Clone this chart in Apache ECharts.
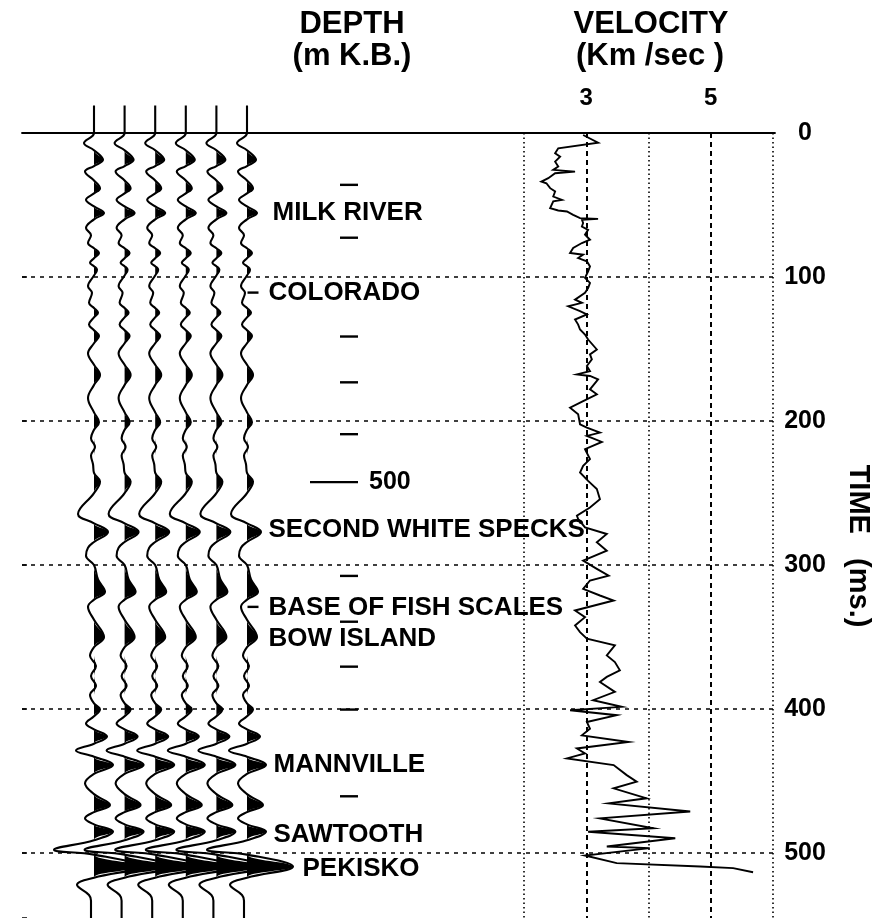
<!DOCTYPE html>
<html><head><meta charset="utf-8">
<script src="https://cdn.jsdelivr.net/npm/echarts@6/dist/echarts.min.js"></script>
<style>html,body{margin:0;padding:0;background:#fff}#c{width:875px;height:918px}</style>
</head><body><div id="c"></div>
<script>
// ---------------- DATA ----------------
// synthetic seismogram trace (same trace repeated 6 times): time (ms) and amplitude
const traceTimes = [-19,0,7,12,18.7,23,26.8,33,38.5,42,46.4,51,55.6,60,66,71,76.4,80,83.3,87,90.2,92.5,94.9,99,106.4,111,117.9,121.5,124.9,128,133,137,141,146,153,161,168,175,184,194,200.8,206,212,218,224,230,236,242,250,264.5,271,277,284,288,293.6,300,310,318.6,324,329,338,350,357,363,370,377,384,390,396,400,405,410,414,419,424,428.7,433,438.8,445,451.5,459,466.5,471.5,475.8,480,485,491,497.7,501,509.3,517,522,529,533,545];
const traceAmps  = [0,0,-10,0,9,0,-9,0,6,0,-8,0,10,0,-8,-3,-6,0,5,0,-4,0,3,0,-6,-2,-5,0,4,0,-5,0,5,0,-6,0,6,0,-6,0,5,0,-3,1,-3,-1,0,6,0,-16,0,14,0,-6,-8,0,4,11,0,-6,0,10,0,-4,2,-3,2,-4,0,6,0,-8,0,13,0,-18,0,19,0,-9,0,16,0,-9,0,19,0,-40,0,46,0,-17,-5,-3,-3];

// velocity log: time (ms) and velocity (km/s)
const velTimes  = [1.4,6.7,10.6,14.1,16.4,19.9,23.3,25.6,26.8,27.9,31.4,33.7,34.9,38.3,40.6,44.1,46.4,47.5,52.2,53.8,54.5,56.8,59.1,59.6,60.2,62.5,64.9,67.2,70.6,74.1,76.4,79.8,83.3,84.5,86.8,89.1,92.6,96.1,100.6,104.1,107.6,111.0,115.7,117.9,120.3,123.7,126,129.5,133,136.4,139.9,143.4,150.3,153.7,157.2,161.8,165.3,167.6,168.7,171,178,181.4,186.1,190.7,195.3,202.2,204.5,208,210.3,214.5,219.5,226.4,231.1,235.7,241.5,247.2,254.2,260,265.7,268,273.8,278.4,284.1,290,296.9,302.6,307.3,310.7,316.5,321.1,324.6,331.5,336.1,341.9,346.5,351.1,355.7,362.7,367.3,373,377.6,381.1,388,393.8,398.4,400.8,404.2,408.9,413.6,418.2,422.8,427.3,430.7,434.2,438.8,445.8,450.3,455,461.9,465.4,471.1,475.8,482.7,485.1,489.6,495.4,496.5,501.6,506.9,509.2,510.4,513.2];
const velValues = [2.95,3.19,2.55,2.50,2.58,2.50,2.55,2.47,2.82,2.50,2.39,2.28,2.36,2.42,2.50,2.47,2.61,2.47,2.42,2.55,2.69,2.79,2.90,3.19,2.93,2.95,2.93,3.03,2.98,3.06,2.93,2.79,2.74,2.95,2.87,3.01,3.06,3.03,2.98,3.06,3.03,2.98,2.82,2.93,2.71,2.90,3.01,2.82,2.87,2.90,2.98,3.03,3.17,3.06,3.09,3.01,3.06,2.85,3.06,3.19,3.06,3.17,2.95,2.74,2.87,2.90,3.01,3.22,3.01,3.25,2.98,3.06,2.95,2.90,3.03,3.17,3.22,3.06,2.85,2.87,2.98,3.33,3.17,3.33,2.95,3.17,3.36,3.06,2.95,3.22,3.44,2.82,2.98,2.82,2.90,3.01,3.46,3.33,3.46,3.54,3.33,3.22,3.46,3.11,3.57,2.74,3.49,3.01,3.06,2.93,3.68,2.85,2.98,2.69,3.44,3.65,3.81,3.44,3.97,3.36,4.67,3.22,4.08,3.03,4.43,3.33,4.02,2.98,3.49,4.83,5.36,5.68];

// formation tops
const formationNames = ['MILK RIVER','COLORADO','SECOND WHITE SPECKS','BASE OF FISH SCALES','BOW ISLAND','MANNVILLE','SAWTOOTH','PEKISKO'];
const formationTimes = [55.4,110.8,275.6,330,351,439,487,511];
const formationMarkTimes = [110.8,329];

// depth ticks (every 50 m, those visible), time in ms
const depthTickTimes = [36,72.7,141.3,173.1,209.1,307.5,339.3,370.5,400.3,460.5];
const depthLabelTimes = [242.4];
const depthLabelTexts = ['500'];

// axes
const timeTickLabels = [0,100,200,300,400,500];
const velTickLabels = [3,5];

// ---------------- LAYOUT ----------------
const FONT = '"Liberation Sans", Arial, Helvetica, sans-serif';
const N_TRACES = 6, TRACE0 = 72, SPACING = 30.6;
const T_MAX = 545, T_MIN_W = -20;
const PX_PER_MS = 787 / T_MAX;

const series = [];
for (let k = 0; k < N_TRACES; k++) {
  const base = TRACE0 + k * SPACING;
  const full = traceTimes.map((t, i) => [base + traceAmps[i], t]);
  const pos = traceTimes.map((t, i) => [base + Math.max(0, traceAmps[i]), t]);
  series.push({
    type: 'line', xAxisIndex: 3, yAxisIndex: 0, data: pos, smooth: 0.4,
    symbol: 'none', showSymbol: false, clip: false, silent: true, z: 3,
    lineStyle: { width: 0, opacity: 0 },
    areaStyle: { color: '#000', opacity: 1, origin: base }
  });
  series.push({
    type: 'line', xAxisIndex: 3, yAxisIndex: 0, data: full, smooth: 0.4,
    symbol: 'none', showSymbol: false, clip: false, silent: true, z: 4,
    lineStyle: { color: '#000', width: 2.1 }
  });
}

// velocity log
series.push({
  type: 'line', xAxisIndex: 1, yAxisIndex: 2,
  data: velTimes.map((t, i) => [velValues[i], t]),
  symbol: 'none', showSymbol: false, clip: false, silent: true, z: 4,
  lineStyle: { color: '#000', width: 1.9, join: 'miter' }
});

// depth ticks
const DEPTH_X = 327;
const solid = { color: '#000', opacity: 1 };
series.push({
  type: 'scatter', xAxisIndex: 0, yAxisIndex: 1, silent: true, z: 4,
  symbol: 'rect', symbolSize: [18, 2.4], itemStyle: solid,
  data: depthTickTimes.map(t => [DEPTH_X, t])
});
series.push({
  type: 'scatter', xAxisIndex: 0, yAxisIndex: 1, silent: true, z: 4,
  symbol: 'rect', symbolSize: [48, 2.4], itemStyle: solid,
  data: depthLabelTimes.map((t, i) => ({ value: [DEPTH_X - 15, t], name: depthLabelTexts[i] })),
  label: { show: true, position: 'right', distance: 11, formatter: '{b}',
    color: '#000', fontSize: 25, fontWeight: 'bold', fontFamily: FONT }
});
// formation top markers
series.push({
  type: 'scatter', xAxisIndex: 0, yAxisIndex: 1, silent: true, z: 4,
  symbol: 'rect', symbolSize: [11, 2.4], itemStyle: solid,
  data: formationMarkTimes.map(t => [231, t])
});
// formation labels
const labelX = { 'PEKISKO': 280, 'MILK RIVER': 250, 'MANNVILLE': 251, 'SAWTOOTH': 251 };
series.push({
  type: 'scatter', xAxisIndex: 0, yAxisIndex: 1, silent: true, z: 5,
  symbolSize: 1, itemStyle: { color: 'rgba(255,255,255,0)', opacity: 1 },
  data: formationNames.map((n, i) => ({ name: n, value: [labelX[n] !== undefined ? labelX[n] : 246, formationTimes[i]] })),
  label: { show: true, position: 'right', distance: 0, formatter: '{b}', opacity: 1,
    color: '#000', fontSize: 26, fontWeight: 'bold', fontFamily: FONT }
});

const option = {
  animation: false,
  backgroundColor: '#fff',
  grid: [
    { left: 22, top: 133, width: 753, height: 787 },
    { left: 524, top: 133, width: 249, height: 787 },
    { left: 22, top: 133 + T_MIN_W * PX_PER_MS, width: 753, height: 787 - T_MIN_W * PX_PER_MS }
  ],
  xAxis: [
    { gridIndex: 0, type: 'value', min: 0, max: 753, position: 'top',
      axisLine: { show: true, onZero: false, lineStyle: { color: '#000', width: 1.8 } },
      axisTick: { show: false }, axisLabel: { show: false }, splitLine: { show: false } },
    { gridIndex: 1, type: 'value', min: 2, max: 6, interval: 2, position: 'top',
      axisLine: { show: false }, axisTick: { show: false }, axisLabel: { show: false },
      splitLine: { show: true, lineStyle: { color: '#000', width: 1.6, type: [1.5, 3] } },
      minorTick: { show: false, splitNumber: 2 },
      minorSplitLine: { show: true, lineStyle: { color: '#000', width: 2, type: [5, 4] } } },
    { gridIndex: 1, type: 'value', min: 2, max: 6, interval: 1, position: 'top',
      axisLine: { show: false }, axisTick: { show: false }, splitLine: { show: false },
      axisLabel: { show: true, margin: 23, color: '#000', fontSize: 24, fontWeight: 'bold', fontFamily: FONT,
        formatter: v => velTickLabels.indexOf(v) >= 0 ? String(v) : '' } },
    { gridIndex: 2, type: 'value', min: 0, max: 753, show: false }
  ],
  yAxis: [
    { gridIndex: 2, type: 'time', min: T_MIN_W, max: T_MAX, inverse: true, show: false },
    { gridIndex: 0, type: 'value', min: 0, max: T_MAX, interval: 100, inverse: true, position: 'right',
      axisLine: { show: false },
      axisTick: { show: true, length: 5, lineStyle: { color: '#000', width: 1.5 } },
      axisLabel: { show: true, margin: 30, align: 'center', color: '#000', fontSize: 25, fontWeight: 'bold', fontFamily: FONT,
        formatter: v => timeTickLabels.indexOf(v) >= 0 ? String(v) : '' },
      splitLine: { show: true, showMaxLine: false, lineStyle: { color: '#000', width: 1.7, type: [4, 5] } } },
    { gridIndex: 1, type: 'value', min: 0, max: T_MAX, inverse: true, show: false }
  ],
  graphic: [
    { type: 'text', x: 352, y: 24, style: { text: 'DEPTH', font: 'bold 31px ' + FONT, fill: '#000', align: 'center', verticalAlign: 'middle', textAlign: 'center', textVerticalAlign: 'middle' } },
    { type: 'text', x: 352, y: 56, style: { text: '(m K.B.)', font: 'bold 31px ' + FONT, fill: '#000', align: 'center', verticalAlign: 'middle', textAlign: 'center', textVerticalAlign: 'middle' } },
    { type: 'text', x: 651, y: 24, style: { text: 'VELOCITY', font: 'bold 31px ' + FONT, fill: '#000', align: 'center', verticalAlign: 'middle', textAlign: 'center', textVerticalAlign: 'middle' } },
    { type: 'text', x: 650, y: 56, style: { text: '(Km /sec )', font: 'bold 31px ' + FONT, fill: '#000', align: 'center', verticalAlign: 'middle', textAlign: 'center', textVerticalAlign: 'middle' } },
    { type: 'text', x: 858, y: 546, rotation: -Math.PI / 2, style: { text: 'TIME   (ms.)', font: 'bold 29px ' + FONT, fill: '#000', align: 'center', verticalAlign: 'middle', textAlign: 'center', textVerticalAlign: 'middle' } }
  ],
  series: series
};
const chart = echarts.init(document.getElementById('c'), null, { renderer: 'canvas' });
chart.setOption(option);
</script></body></html>
